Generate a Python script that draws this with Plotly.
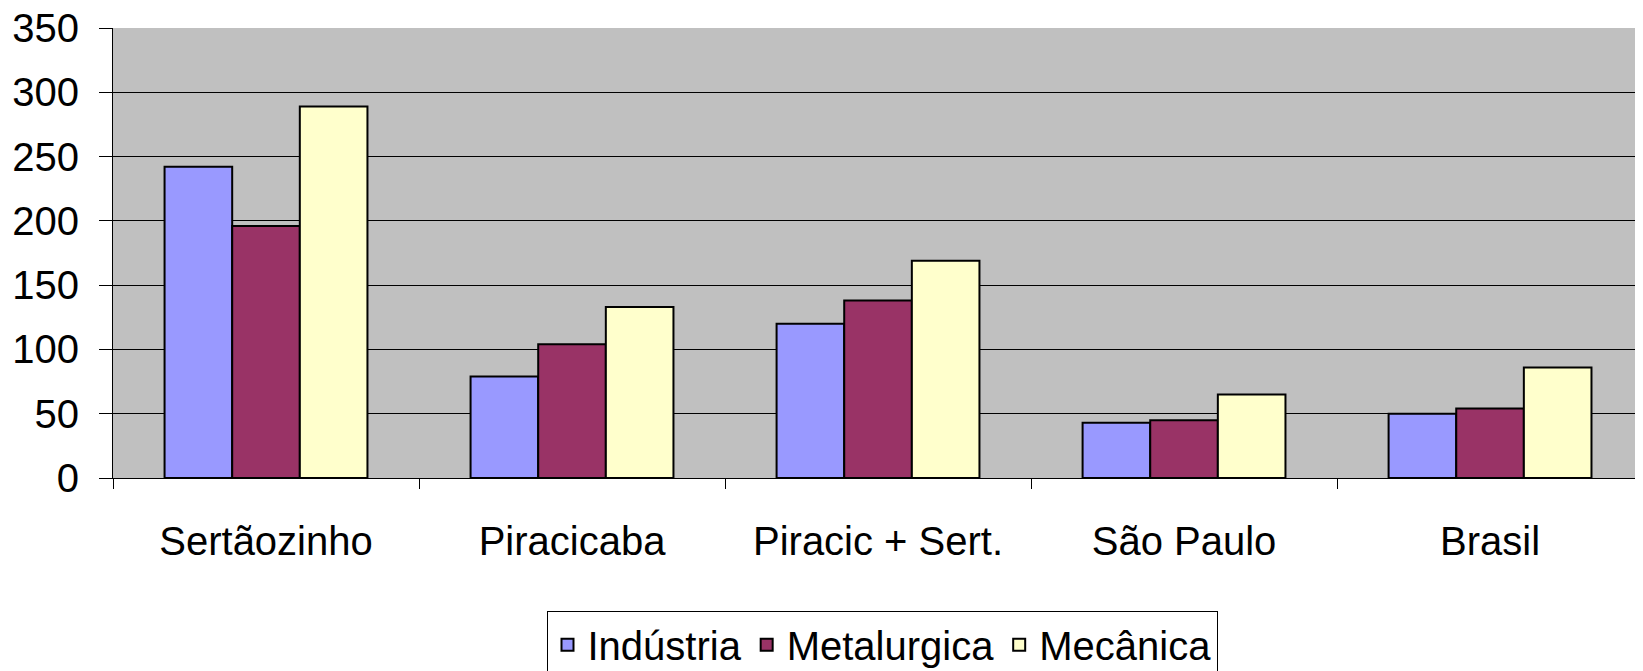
import plotly.graph_objects as go

# categorias e valores
regioes = ['Sertãozinho', 'Piracicaba', 'Piracic + Sert.', 'São Paulo', 'Brasil']
industria = [242, 79, 120, 43, 50]
metalurgica = [196, 104, 138, 45, 54]
mecanica = [289, 133, 169, 65, 86]

series = [
    ('Indústria', industria, '#9999FF'),
    ('Metalurgica', metalurgica, '#993366'),
    ('Mecânica', mecanica, '#FFFFCC'),
]

fig = go.Figure()
for nome, valores, cor in series:
    fig.add_trace(go.Bar(
        x=regioes, y=valores, name=nome,
        marker=dict(color=cor, line=dict(color='black', width=2)),
    ))

# a página tem margem de 8px no body, compensada nas margens da figura
fig.update_layout(
    width=1643, height=671,
    margin=dict(l=105, r=0, t=20, b=201, autoexpand=False),
    paper_bgcolor='white',
    plot_bgcolor='#C0C0C0',
    font=dict(family='Liberation Sans, Arial, sans-serif', size=40, color='black'),
    barmode='group',
    bargap=0.337,
    bargroupgap=0,
    showlegend=True,
    legend=dict(
        orientation='h',
        x=0.5, xanchor='center',
        y=-0.296, yanchor='top',
        bordercolor='black', borderwidth=1,
        bgcolor='white',
        font=dict(size=40),
        itemclick=False,
    ),
)

fig.update_xaxes(
    automargin=False,
    range=[-0.5, 4.526],
    showgrid=False,
    showline=True, linecolor='black', linewidth=1,
    ticks='outside', tickson='boundaries', ticklen=10, tickcolor='black',
    ticklabelstandoff=28,
    ticklabeloverflow='allow',
)
fig.update_yaxes(
    automargin=False,
    range=[0, 350],
    tickvals=[0, 50, 100, 150, 200, 250, 300, 350],
    showgrid=True, gridcolor='black', gridwidth=1,
    showline=True, linecolor='black', linewidth=1,
    ticks='outside', ticklen=13, tickcolor='black',
    ticklabelstandoff=12,
    ticklabeloverflow='allow',
    zeroline=False,
)

fig.write_html('out.html')
